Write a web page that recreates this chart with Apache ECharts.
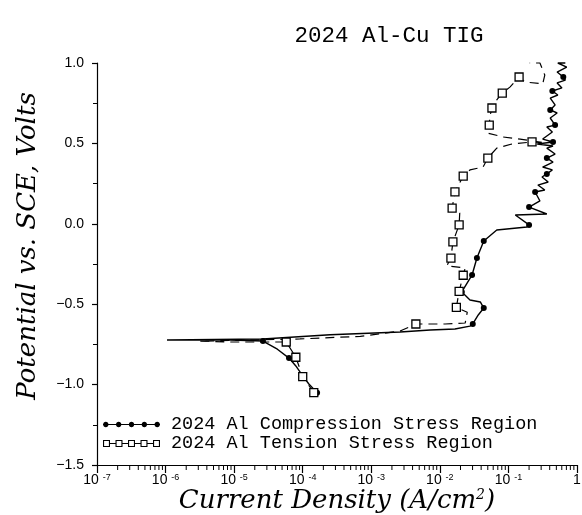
<!DOCTYPE html>
<html>
<head>
<meta charset="utf-8">
<script src="https://cdn.jsdelivr.net/npm/echarts@6/dist/echarts.min.js"></script>
<style>
  html, body { margin: 0; padding: 0; background: #fff; }
  #chart { width: 582px; height: 515px; }
</style>
</head>
<body>
<div id="chart"></div>
<script>
// Polarization scans of 2024 Al-Cu TIG welds.
// Each point: [current density (A/cm^2), potential (V vs. SCE), marker flag]
const compressionScan = [
  [1.62e-4, -1.05, 1], [1.23e-4, -0.996, 0], [9.77e-5, -0.94, 1], [7.94e-5, -0.884, 0],
  [6.31e-5, -0.835, 1], [4.27e-5, -0.78, 0], [2.63e-5, -0.729, 1], [8.71e-6, -0.723, 0],
  [1.05e-6, -0.723, 0], [2.63e-5, -0.716, 0], [2.51e-4, -0.69, 0], [2.63e-3, -0.673, 0],
  [7.24e-3, -0.66, 0], [1.66e-2, -0.654, 0], [2.75e-2, -0.636, 0], [3.02e-2, -0.623, 1],
  [3.63e-2, -0.567, 0], [4.37e-2, -0.524, 1], [3.89e-2, -0.486, 0], [2.75e-2, -0.474, 0],
  [2.40e-2, -0.449, 0], [2.09e-2, -0.424, 1], [2.95e-2, -0.318, 1], [3.47e-2, -0.213, 1],
  [4.37e-2, -0.107, 1], [6.76e-2, -0.039, 0], [0.186, -0.02, 0], [0.200, -0.007, 1],
  [0.126, 0.055, 0], [0.363, 0.061, 0], [0.200, 0.104, 1], [0.288, 0.142, 0],
  [0.245, 0.198, 1], [0.339, 0.21, 0], [0.269, 0.241, 0], [0.380, 0.26, 0],
  [0.309, 0.291, 0], [0.363, 0.31, 1], [0.437, 0.335, 0], [0.316, 0.353, 0],
  [0.447, 0.384, 0], [0.363, 0.409, 1], [0.479, 0.434, 0], [0.363, 0.471, 0],
  [0.447, 0.484, 0], [0.263, 0.496, 0], [0.447, 0.509, 1], [0.316, 0.527, 0],
  [0.437, 0.571, 0], [0.363, 0.602, 0], [0.479, 0.614, 1], [0.407, 0.658, 0],
  [0.513, 0.689, 0], [0.407, 0.708, 1], [0.479, 0.739, 0], [0.407, 0.782, 0],
  [0.525, 0.801, 0], [0.437, 0.826, 1], [0.603, 0.845, 0], [0.513, 0.876, 0],
  [0.676, 0.894, 0], [0.631, 0.913, 1], [0.513, 0.944, 0], [0.708, 0.975, 0],
  [0.525, 1.0, 0], [0.676, 1.0, 0]
];

const tensionScan = [
  [1.45e-4, -1.05, 1], [1.00e-4, -0.95, 1], [7.94e-5, -0.83, 1], [5.75e-5, -0.735, 1],
  [8.71e-6, -0.735, 0], [3.16e-6, -0.73, 0], [9.12e-5, -0.716, 0], [6.92e-4, -0.70, 0],
  [2.63e-3, -0.667, 0], [4.47e-3, -0.623, 1], [1.19e-2, -0.623, 0], [2.34e-2, -0.617, 0],
  [2.51e-2, -0.55, 0], [1.74e-2, -0.52, 1], [1.91e-2, -0.42, 1], [2.19e-2, -0.32, 1],
  [2.34e-2, -0.275, 0], [1.26e-2, -0.262, 0], [1.45e-2, -0.213, 1], [1.55e-2, -0.113, 1],
  [1.91e-2, -0.007, 1], [1.95e-2, 0.067, 0], [1.51e-2, 0.098, 1], [1.66e-2, 0.198, 1],
  [2.19e-2, 0.297, 1], [2.75e-2, 0.335, 0], [4.27e-2, 0.353, 0], [5.01e-2, 0.409, 1],
  [6.76e-2, 0.471, 0], [0.112, 0.496, 0], [0.221, 0.509, 1], [0.339, 0.503, 0],
  [0.148, 0.527, 0], [8.32e-2, 0.54, 0], [4.90e-2, 0.565, 0], [5.25e-2, 0.614, 1],
  [5.37e-2, 0.67, 0], [5.75e-2, 0.72, 1], [6.76e-2, 0.77, 0], [8.13e-2, 0.813, 1],
  [0.105, 0.85, 0], [0.143, 0.913, 1], [0.174, 0.882, 0], [0.316, 0.87, 0],
  [0.339, 0.925, 0], [0.288, 1.0, 0], [0.204, 1.0, 0]
];

const seriesNames = ['2024 Al Compression Stress Region', '2024 Al Tension Stress Region'];
const titleText = '2024 Al-Cu TIG';
const xAxisTitle = 'Current Density (A/cm{s|2})';
const yAxisTitle = 'Potential vs. SCE, Volts';
const currentRange = [1e-7, 1];
const potentialRange = [-1.5, 1.0];

// Minor tick positions of the log axis: 2..9 within each decade
const minorTickValues = [];
for (let d = -7; d < 0; d++) {
  for (let k = 2; k <= 9; k++) minorTickValues.push(k * Math.pow(10, d));
}

const INK = '#000';
const monoFont = '"Liberation Mono", "DejaVu Sans Mono", monospace';
const labelFont = '"Liberation Sans", Arial, sans-serif';
const nameFont = '"DejaVu Serif", "Liberation Serif", serif';

function toItems(scan, symbol, size) {
  return scan.map(([i, e, m]) => ({
    value: [i, e],
    symbol: m ? symbol : 'none',
    symbolSize: m ? size : 0
  }));
}

// Legend icons: a line threaded with five dots, and five open squares joined by a line
function dotsIcon() {
  let p = 'path://M0,3.4 L57,3.4 L57,4.6 L0,4.6 Z ';
  const r = 2.7;
  for (let k = 0; k < 5; k++) {
    const cx = 2.8 + k * 12.85;
    for (let j = 0; j < 16; j++) {
      const a = (j / 16) * Math.PI * 2;
      p += (j === 0 ? 'M' : 'L') + (cx + r * Math.cos(a)).toFixed(2) + ',' + (4 + r * Math.sin(a)).toFixed(2) + ' ';
    }
    p += 'Z ';
  }
  return p;
}
function squaresIcon() {
  let p = 'path://';
  const s = 7, w = 1.1;
  for (let k = 0; k < 5; k++) {
    const x = k * 12.5, y = 0.5;
    p += `M${x},${y} L${x + s},${y} L${x + s},${y + s} L${x},${y + s} Z `;
    p += `M${x + w},${y + w} L${x + w},${y + s - w} L${x + s - w},${y + s - w} L${x + s - w},${y + w} Z `;
    if (k < 4) p += `M${x + s},3.5 L${x + 12.5},3.5 L${x + 12.5},4.5 L${x + s},4.5 Z `;
  }
  return p;
}

const chart = echarts.init(document.getElementById('chart'), null, { renderer: 'canvas' });

chart.setOption({
  backgroundColor: '#fff',
  animation: false,
  title: {
    text: titleText,
    left: 384,
    textAlign: 'center',
    top: 20,
    textStyle: { fontFamily: monoFont, fontSize: 22.5, fontWeight: 'normal', color: INK }
  },
  grid: { left: 97, right: 5, top: 63, bottom: 50, containLabel: false, outerBoundsMode: 'none' },
  legend: {
    orient: 'vertical',
    left: 103,
    top: 415,
    padding: 0,
    itemWidth: 57,
    itemHeight: 8,
    itemGap: 0,
    textStyle: { fontFamily: monoFont, fontSize: 18.5, color: INK, padding: [0, 0, 0, 6] },
    data: [
      { name: seriesNames[0], icon: dotsIcon(), itemStyle: { color: INK, borderWidth: 0 } },
      { name: seriesNames[1], icon: squaresIcon(), itemStyle: { color: INK, borderWidth: 0 } }
    ]
  },
  xAxis: {
    type: 'log',
    logBase: 10,
    min: currentRange[0],
    max: currentRange[1],
    interval: 1,
    name: xAxisTitle,
    nameLocation: 'middle',
    nameGap: 23,
    nameMoveOverlap: false,
    nameTextStyle: {
      fontFamily: nameFont, fontStyle: 'italic', fontSize: 26, color: INK,
      rich: { s: { fontFamily: nameFont, fontStyle: 'italic', fontSize: 14, verticalAlign: 'top', color: INK } }
    },
    axisLine: { onZero: false, lineStyle: { color: INK, width: 1.2 } },
    axisTick: { inside: false, length: 8, lineStyle: { color: INK, width: 1.2 } },
    splitLine: { show: false },
    axisLabel: {
      margin: 8,
      color: INK,
      fontFamily: labelFont,
      fontSize: 14,
      formatter: function (v) {
        const e = Math.round(Math.log10(v));
        return e === 0 ? '1' : '10 {e|' + e + '}';
      },
      rich: { e: { fontFamily: labelFont, fontSize: 9, verticalAlign: 'top', color: INK } }
    }
  },
  yAxis: {
    type: 'value',
    min: potentialRange[0],
    max: potentialRange[1],
    interval: 0.5,
    name: yAxisTitle,
    nameLocation: 'middle',
    nameGap: 56,
    nameMoveOverlap: false,
    nameTextStyle: { fontFamily: nameFont, fontStyle: 'italic', fontSize: 26, color: INK, padding: [0, 0, 0, 36] },
    axisLine: { onZero: false, lineStyle: { color: INK, width: 1.2 } },
    axisTick: { inside: false, length: 5, lineStyle: { color: INK, width: 1.2 } },
    minorTick: { show: true, splitNumber: 2, length: 4, lineStyle: { color: INK, width: 1 } },
    splitLine: { show: false },
    axisLabel: {
      margin: 13,
      color: INK,
      fontFamily: labelFont,
      fontSize: 14,
      formatter: v => v.toFixed(1).replace('-', '\u2212')
    }
  },
  series: [
    {
      name: seriesNames[0],
      type: 'line',
      data: toItems(compressionScan, 'circle', 6),
      lineStyle: { color: INK, width: 1.4 },
      itemStyle: { color: INK, borderWidth: 0 },
      clip: false,
      z: 3
    },
    {
      name: seriesNames[1],
      type: 'line',
      data: toItems(tensionScan, 'rect', 8),
      lineStyle: { color: INK, width: 1.2, type: [9, 6] },
      itemStyle: { color: '#fff', borderColor: INK, borderWidth: 1.3 },
      clip: false,
      z: 4
    },
    {
      // minor ticks of the logarithmic current axis
      name: 'minorTicks',
      type: 'custom',
      silent: true,
      clip: false,
      data: minorTickValues.map(v => [v, potentialRange[0]]),
      renderItem: function (params, api) {
        const p = api.coord([api.value(0), api.value(1)]);
        return {
          type: 'line',
          shape: { x1: p[0], y1: p[1], x2: p[0], y2: p[1] + 5 },
          style: { stroke: INK, lineWidth: 1 }
        };
      },
      z: 2
    }
  ]
});
</script>
</body>
</html>
